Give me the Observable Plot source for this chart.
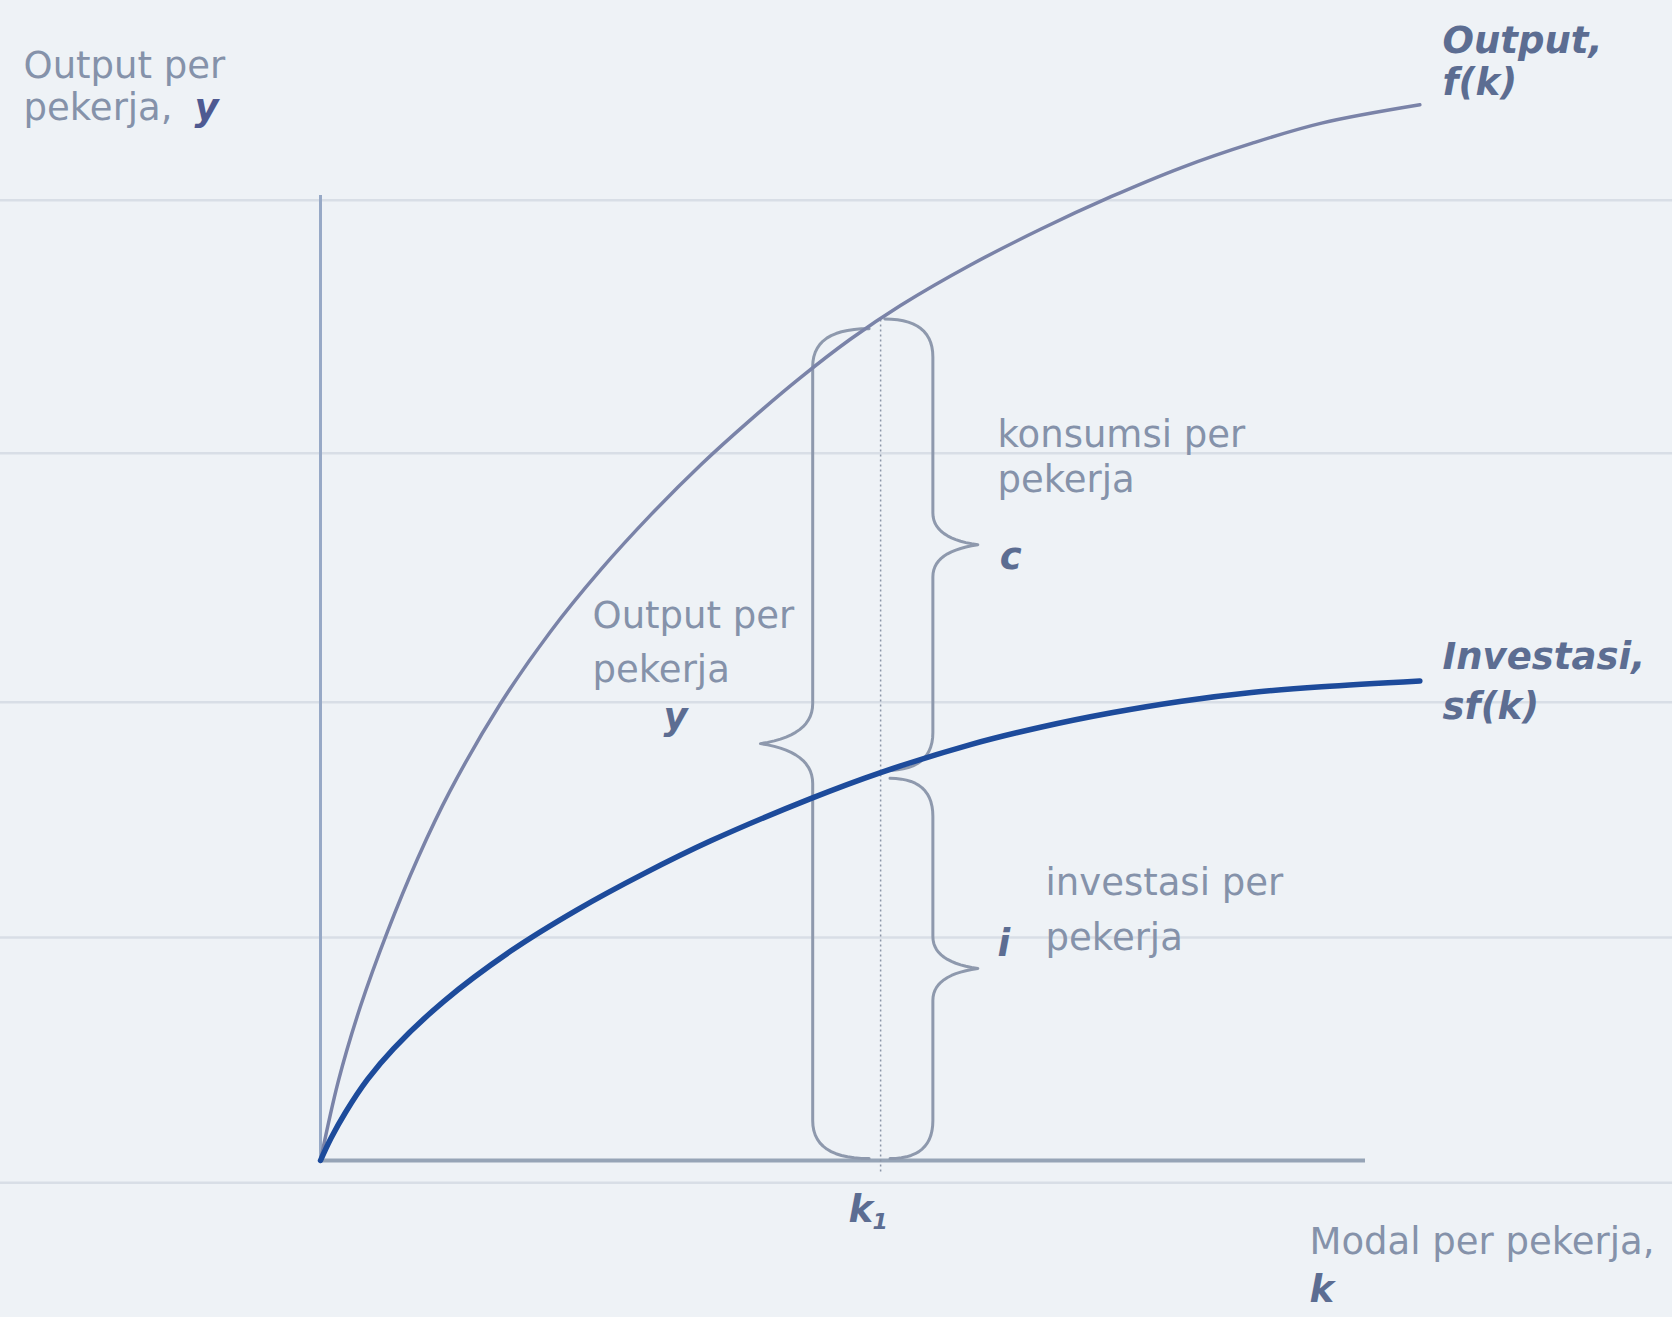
<!DOCTYPE html>
<html>
<head>
<meta charset="utf-8">
<script src="https://cdn.jsdelivr.net/npm/d3@7"></script>
<script src="https://cdn.jsdelivr.net/npm/@observablehq/plot@0.6"></script>
<style>
  html, body { margin: 0; padding: 0; background: #eef2f6; }
  #chart svg { display: block; }
</style>
</head>
<body>
<div id="chart"></div>
<script>
// ---- data (k = capital per worker, v = output per worker) ----
const kOutput = [0, 0.17, 0.38, 0.64, 0.93, 1.24, 1.72, 2.20, 2.68, 3.16, 3.64, 4.12, 4.59, 5.07, 5.55, 6.22, 6.89, 7.57, 8.24, 8.91, 9.58, 10.52];
const yOutput = [0, 0.82, 1.59, 2.37, 3.13, 3.83, 4.73, 5.48, 6.12, 6.69, 7.21, 7.68, 8.11, 8.51, 8.86, 9.28, 9.65, 9.99, 10.29, 10.54, 10.75, 10.94];

const kInvest = [0, 0.10, 0.24, 0.45, 0.70, 1.18, 1.82, 2.46, 3.09, 3.73, 4.69, 5.36, 6.22, 6.89, 7.57, 8.24, 8.91, 9.58, 10.52];
const yInvest = [0, 0.23, 0.50, 0.84, 1.16, 1.65, 2.17, 2.60, 2.97, 3.31, 3.75, 4.02, 4.31, 4.49, 4.64, 4.76, 4.85, 4.91, 4.97];

const k1 = 5.36;          // chosen capital level
const fK1 = 8.72;         // output at k1
const sfK1 = 4.02;        // investment at k1

const axisXEnd = 10;      // end of horizontal axis
const axisYEnd = 10;      // top of vertical axis
const paperLines = [9.95, 7.33, 4.75, 2.31, -0.23]; // faint ruled lines of the slide background

// braces: name, end x, stem x, tip x, top value, bottom value
const braceNames = ["output", "consumption", "investment"];
const braceEnd   = [5.25, 5.40, 5.45];
const braceStem  = [4.71, 5.86, 5.86];
const braceTip   = [4.21, 6.29, 6.29];
const braceTop   = [8.62, fK1, 3.96];
const braceBot   = [0.02, 4.04, 0.02];

// text labels
const labelText  = ["Output per", "pekerja,", "y", "Output,", "f(k)", "konsumsi per", "pekerja", "c",
                    "Output per", "pekerja", "y", "Investasi,", "sf(k)", "investasi per", "pekerja", "i",
                    "k", "1", "Modal per pekerja,", "k"];
const labelK     = [-2.842, -2.842, -1.206, 10.737, 10.737, 6.478, 6.478, 6.50,
                    2.603, 2.603, 3.282, 10.737, 10.737, 6.938, 6.938, 6.478,
                    5.053, 5.282, 9.464, 9.464];
const labelV     = [11.337, 10.902, 10.902, 11.596, 11.161, 7.513, 7.047, 6.249,
                    5.637, 5.078, 4.591, 5.212, 4.694, 2.870, 2.301, 2.238,
                    -0.518, -0.642, -0.850, -1.347];
const labelKind  = ["reg", "reg", "var", "lab", "lab", "reg", "reg", "lab",
                    "reg", "reg", "lab", "lab", "lab", "reg", "reg", "lab",
                    "lab", "sub", "reg", "lab"];

// ---- frame: the picture is 1672 x 1317, origin of the axes at (320, 1160) ----
const W = 1672, H = 1317;
const PX = 104.5, PY = 96.5, OX = 320, OY = 1160;
const xDomain = [(0 - OX) / PX, (W - OX) / PX];
const yDomain = [(OY - H) / PY, (OY - 0) / PY];

const outputData = kOutput.map((k, i) => ({k, v: yOutput[i]}));
const investData = kInvest.map((k, i) => ({k, v: yInvest[i]}));
const labels = labelText.map((t, i) => ({t, k: labelK[i], v: labelV[i], kind: labelKind[i]}));

// brace outline (drawn shape, in pixel offsets converted back to data units)
function quad(p0, c, p1, n = 14) {
  const out = [];
  for (let i = 0; i <= n; i++) {
    const t = i / n, u = 1 - t;
    out.push([u * u * p0[0] + 2 * u * t * c[0] + t * t * p1[0],
              u * u * p0[1] + 2 * u * t * c[1] + t * t * p1[1]]);
  }
  return out;
}
function bracePoints(i) {
  const xe = OX + braceEnd[i] * PX, xs = OX + braceStem[i] * PX, xt = OX + braceTip[i] * PX;
  const yt = OY - braceTop[i] * PY, yb = OY - braceBot[i] * PY, ym = (yt + yb) / 2;
  const ry = 38, tdy = i === 0 ? 40 : 32;
  let pts = [];
  pts = pts.concat(quad([xe, yt], [xs, yt], [xs, yt + ry]));
  pts.push([xs, ym - tdy]);
  pts = pts.concat(quad([xs, ym - tdy], [xs, ym - tdy * 0.2], [xt, ym]));
  pts = pts.concat(quad([xt, ym], [xs, ym + tdy * 0.2], [xs, ym + tdy]));
  pts.push([xs, yb - ry]);
  pts = pts.concat(quad([xs, yb - ry], [xs, yb], [xe, yb]));
  return pts.map(([px, py]) => ({k: (px - OX) / PX, v: (OY - py) / PY, id: braceNames[i]}));
}
const braceData = braceNames.flatMap((_, i) => bracePoints(i));

const font = "DejaVu Sans, Verdana, sans-serif";
const textColor = "#8592aa";
const labelColor = "#5c6d92";

const chart = Plot.plot({
  width: W,
  height: H,
  margin: 0,
  x: {domain: xDomain, axis: null},
  y: {domain: yDomain, axis: null},
  style: {background: "#eef2f6"},
  marks: [
    Plot.ruleY(paperLines, {stroke: "#d8dee6", strokeWidth: 2.5}),
    Plot.ruleX([0], {y1: 0, y2: axisYEnd, stroke: "#97a9c6", strokeWidth: 3}),
    Plot.ruleY([0], {x1: 0, x2: axisXEnd, stroke: "#96a4b6", strokeWidth: 4}),
    Plot.ruleX([k1], {y1: -0.12, y2: fK1, stroke: "#8c96a8", strokeWidth: 1.5, strokeDasharray: "2,3"}),
    Plot.line(braceData, {x: "k", y: "v", z: "id", stroke: "#8e99ad", strokeWidth: 3, curve: "linear"}),
    Plot.line(outputData, {x: "k", y: "v", curve: "catmull-rom", stroke: "#7a83a8", strokeWidth: 3.5}),
    Plot.line(investData, {x: "k", y: "v", curve: "catmull-rom", stroke: "#1d4b9b", strokeWidth: 5.5}),
    Plot.text(labels.filter(d => d.kind === "reg"), {x: "k", y: "v", text: "t", textAnchor: "start", lineAnchor: "middle",
      fontSize: 37, fontFamily: font, fill: textColor}),
    Plot.text(labels.filter(d => d.kind === "lab"), {x: "k", y: "v", text: "t", textAnchor: "start", lineAnchor: "middle",
      fontSize: 37, fontFamily: font, fontWeight: "bold", fontStyle: "italic", fill: labelColor}),
    Plot.text(labels.filter(d => d.kind === "var"), {x: "k", y: "v", text: "t", textAnchor: "start", lineAnchor: "middle",
      fontSize: 37, fontFamily: font, fontWeight: "bold", fontStyle: "italic", fill: "#4e5a92"}),
    Plot.text(labels.filter(d => d.kind === "sub"), {x: "k", y: "v", text: "t", textAnchor: "start", lineAnchor: "middle",
      fontSize: 22, fontFamily: font, fontWeight: "bold", fontStyle: "italic", fill: labelColor})
  ]
});
document.getElementById("chart").appendChild(chart);
</script>
</body>
</html>
